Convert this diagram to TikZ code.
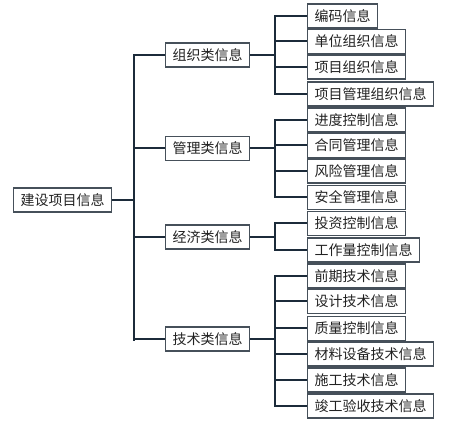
\documentclass[tikz,border=0pt]{standalone}
\usepackage{fontspec}
\newfontfamily\cjk{Noto Sans CJK SC}
\definecolor{lineclr}{HTML}{1C2B3A}
\definecolor{boxclr}{HTML}{46505A}
\definecolor{txtclr}{HTML}{222222}
\begin{document}
\begin{tikzpicture}[x=1pt,y=-1pt,
  box/.style={draw=boxclr, line width=1.3pt, fill=white, anchor=west,
    minimum height=24pt, inner xsep=7pt, inner ysep=0pt,
    font=\cjk\fontsize{14pt}{15pt}\selectfont, text=txtclr},
  conn/.style={draw=lineclr, line width=2pt}]
\useasboundingbox (0,0) rectangle (471,435);
% root
\node[box] (root) at (13,200) {建设项目信息};
% level 1
\node[box] (g1) at (165,55) {组织类信息};
\node[box] (g2) at (165,148.5) {管理类信息};
\node[box] (g3) at (165,237) {经济类信息};
\node[box] (g4) at (165,339) {技术类信息};
% leaves
\node[box] (a1) at (307,16) {编码信息};
\node[box] (a2) at (307,41.5) {单位组织信息};
\node[box] (a3) at (307,67) {项目组织信息};
\node[box] (a4) at (307,94) {项目管理组织信息};
\node[box] (b1) at (307,120) {进度控制信息};
\node[box] (b2) at (307,145.5) {合同管理信息};
\node[box] (b3) at (307,171) {风险管理信息};
\node[box] (b4) at (307,197.5) {安全管理信息};
\node[box] (c1) at (307,223.5) {投资控制信息};
\node[box] (c2) at (307,250) {工作量控制信息};
\node[box] (d1) at (307,276) {前期技术信息};
\node[box] (d2) at (307,301.5) {设计技术信息};
\node[box] (d3) at (307,328.5) {质量控制信息};
\node[box] (d4) at (307,354) {材料设备技术信息};
\node[box] (d5) at (307,380) {施工技术信息};
\node[box] (d6) at (307,406) {竣工验收技术信息};
% connectors
\coordinate (t) at (134,200);
\coordinate (t1) at (134,57);
\coordinate (t4) at (134,341);
\draw[conn] (root.east) -- (t);
\draw[conn] (t1) -- (t4);
\foreach \g in {g1,g2,g3,g4} \draw[conn] (t) |- (\g.west);
\coordinate (s1) at (275,55);
\coordinate (s2) at (275,148.5);
\coordinate (s3) at (275,237);
\coordinate (s4) at (275,339);
\draw[conn] (g1.east) -- (s1);
\draw[conn] (g2.east) -- (s2);
\draw[conn] (g3.east) -- (s3);
\draw[conn] (g4.east) -- (s4);
\foreach \l in {a1,a2,a3,a4} \draw[conn] (s1) |- (\l.west);
\foreach \l in {b1,b2,b3,b4} \draw[conn] (s2) |- (\l.west);
\foreach \l in {c1,c2} \draw[conn] (s3) |- (\l.west);
\foreach \l in {d1,d2,d3,d4,d5,d6} \draw[conn] (s4) |- (\l.west);
\end{tikzpicture}
\end{document}
